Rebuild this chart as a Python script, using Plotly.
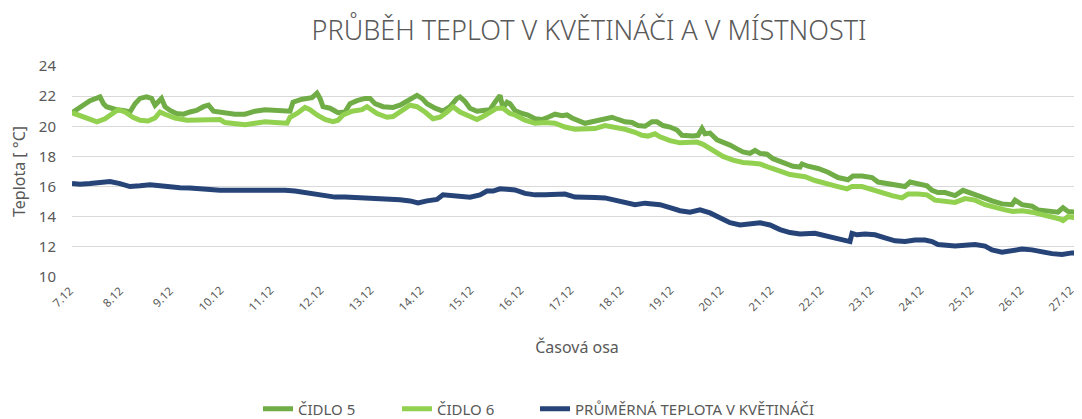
import plotly.graph_objects as go

# day offsets from 7.12 (0 = 7.12, 20 = 27.12)
tick_labels = ["7.12", "8.12", "9.12", "10.12", "11.12", "12.12", "13.12", "14.12", "15.12",
               "16.12", "17.12", "18.12", "19.12", "20.12", "21.12", "22.12", "23.12", "24.12",
               "25.12", "26.12", "27.12"]

cidlo5_t = [-0.06, 0.17, 0.30, 0.50, 0.57, 0.63, 0.83, 0.97, 1.10, 1.20, 1.30, 1.43, 1.53, 1.60,
            1.67, 1.73, 1.80, 1.90, 2.03, 2.17, 2.30, 2.43, 2.57, 2.67, 2.77, 3.00, 3.20, 3.40,
            3.60, 3.80, 4.00, 4.20, 4.30, 4.36, 4.54, 4.74, 4.84, 4.90, 4.96, 5.10, 5.26, 5.40,
            5.50, 5.64, 5.80, 5.90, 6.00, 6.16, 6.36, 6.50, 6.64, 6.76, 6.84, 6.94, 7.04, 7.20,
            7.36, 7.50, 7.64, 7.70, 7.80, 7.90, 8.04, 8.16, 8.30, 8.40, 8.50, 8.56, 8.64, 8.70,
            8.80, 8.94, 9.06, 9.20, 9.34, 9.46, 9.60, 9.74, 9.84, 9.94, 10.06, 10.20, 10.34,
            10.46, 10.60, 10.74, 10.86, 11.00, 11.14, 11.26, 11.40, 11.54, 11.64, 11.76, 11.90,
            12.04, 12.14, 12.24, 12.36, 12.46, 12.54, 12.60, 12.70, 12.84, 12.96, 13.10, 13.24,
            13.36, 13.50, 13.60, 13.70, 13.84, 13.96, 14.10, 14.24, 14.36, 14.50, 14.54, 14.66,
            14.86, 15.06, 15.26, 15.46, 15.56, 15.74, 15.94, 16.06, 16.26, 16.46, 16.60, 16.70,
            16.86, 17.04, 17.14, 17.26, 17.40, 17.60, 17.76, 17.94, 18.14, 18.34, 18.54, 18.74,
            18.80, 18.94, 19.14, 19.26, 19.46, 19.66, 19.76, 19.86, 20.00, 20.14]
cidlo5_v = [20.9, 21.4, 21.7, 21.95, 21.5, 21.3, 21.1, 21.05, 20.95, 21.5, 21.85, 21.95, 21.85, 21.4,
            21.7, 21.85, 21.3, 21.05, 20.85, 20.8, 20.95, 21.05, 21.3, 21.4, 21.0, 20.85, 20.8, 20.8,
            21.0, 21.1, 21.05, 20.95, 21.0, 21.6, 21.8, 21.9, 22.2, 21.85, 21.3, 21.2, 20.9, 20.95,
            21.5, 21.7, 21.85, 21.85, 21.5, 21.3, 21.25, 21.4, 21.7, 21.95, 22.05, 21.85, 21.5, 21.2,
            21.0, 21.3, 21.85, 21.95, 21.65, 21.2, 21.0, 21.05, 21.1, 21.6, 22.05, 21.2, 21.6, 21.5,
            21.05, 20.85, 20.75, 20.5, 20.45, 20.6, 20.8, 20.7, 20.75, 20.55, 20.35, 20.2, 20.3,
            20.4, 20.5, 20.6, 20.45, 20.3, 20.25, 20.05, 20.0, 20.3, 20.3, 20.05, 19.95,
            19.75, 19.4, 19.35, 19.35, 19.4, 19.85, 19.5, 19.55, 19.1, 18.95, 18.75, 18.5,
            18.3, 18.2, 18.4, 18.2, 18.15, 17.85, 17.7, 17.55, 17.35, 17.3, 17.5, 17.35,
            17.2, 16.95, 16.6, 16.45, 16.7, 16.7, 16.6, 16.3, 16.2, 16.05, 16.0, 16.3,
            16.2, 16.05, 15.75, 15.6, 15.6, 15.4, 15.75, 15.5, 15.3, 15.05, 14.85, 14.8,
            15.1, 14.8, 14.7, 14.45, 14.35, 14.3, 14.6, 14.35, 14.3, 14.2]

cidlo6_t = [-0.06, 0.10, 0.30, 0.44, 0.60, 0.76, 0.86, 1.00, 1.16, 1.30, 1.46, 1.60, 1.70, 1.80,
            2.00, 2.24, 2.50, 2.70, 2.90, 3.00, 3.20, 3.40, 3.60, 3.80, 4.00, 4.24, 4.30, 4.44,
            4.60, 4.70, 4.84, 5.00, 5.16, 5.26, 5.36, 5.54, 5.74, 5.84, 6.04, 6.24, 6.36, 6.50,
            6.70, 6.84, 7.00, 7.16, 7.30, 7.44, 7.56, 7.70, 7.90, 8.04, 8.16, 8.34, 8.44, 8.56,
            8.70, 8.80, 9.00, 9.20, 9.40, 9.60, 9.80, 10.00, 10.20, 10.40, 10.60, 10.80, 11.00,
            11.20, 11.34, 11.46, 11.60, 11.70, 11.90, 12.10, 12.30, 12.44, 12.56, 12.76, 12.96,
            13.16, 13.36, 13.56, 13.70, 13.90, 14.10, 14.30, 14.50, 14.60, 14.80, 15.00, 15.20,
            15.44, 15.54, 15.74, 15.94, 16.14, 16.34, 16.54, 16.66, 16.86, 17.04, 17.20, 17.40,
            17.60, 17.80, 18.00, 18.20, 18.40, 18.60, 18.76, 18.94, 19.14, 19.34, 19.54, 19.70,
            19.76, 19.86, 20.00, 20.14]
cidlo6_v = [20.9, 20.7, 20.45, 20.3, 20.5, 20.9, 21.1, 20.95, 20.6, 20.4, 20.35, 20.55, 20.95, 20.8,
            20.55, 20.4, 20.4, 20.45, 20.45, 20.25, 20.2, 20.1, 20.2, 20.3, 20.25, 20.2, 20.6, 20.85,
            21.25, 21.1, 20.75, 20.45, 20.3, 20.4, 20.75, 21.0, 21.1, 21.3, 20.85, 20.6, 20.65, 20.95,
            21.4, 21.3, 20.95, 20.5, 20.6, 20.95, 21.3, 20.95, 20.65, 20.45, 20.65, 20.95, 21.2, 21.2,
            20.85, 20.75, 20.4, 20.2, 20.25, 20.2, 19.95, 19.8, 19.8, 19.85, 20.05, 19.95, 19.8,
            19.6, 19.4, 19.35, 19.5, 19.3, 19.05, 18.9, 18.9, 18.95, 18.8, 18.4, 18.0,
            17.75, 17.6, 17.55, 17.5, 17.25, 17.0, 16.8, 16.7, 16.65, 16.4, 16.2, 16.05,
            15.85, 16.0, 16.0, 15.8, 15.55, 15.4, 15.25, 15.5, 15.5, 15.45, 15.1, 15.05,
            14.95, 15.2, 15.1, 14.8, 14.6, 14.45, 14.35, 14.4, 14.3, 14.15, 14.0, 13.85,
            13.75, 14.0, 13.95, 14.0]

prumer_t = [-0.06, 0.10, 0.30, 0.50, 0.70, 0.90, 1.10, 1.30, 1.50, 1.70, 1.90, 2.10, 2.30, 2.50,
            2.70, 2.90, 3.20, 3.60, 4.00, 4.20, 4.40, 4.60, 4.80, 5.00, 5.20, 5.40, 5.60, 5.80,
            6.10, 6.50, 6.70, 6.86, 7.04, 7.24, 7.36, 7.50, 7.70, 7.90, 8.10, 8.24, 8.36, 8.50,
            8.70, 8.80, 9.00, 9.20, 9.40, 9.60, 9.80, 10.00, 10.20, 10.40, 10.60, 10.80, 11.00,
            11.20, 11.40, 11.60, 11.70, 11.90, 12.10, 12.30, 12.50, 12.70, 12.90, 13.10, 13.30,
            13.50, 13.70, 13.90, 14.10, 14.30, 14.50, 14.80, 15.00, 15.20, 15.40, 15.50, 15.54,
            15.64, 15.80, 16.00, 16.20, 16.40, 16.60, 16.80, 17.00, 17.14, 17.26, 17.40, 17.60,
            17.80, 18.00, 18.20, 18.34, 18.54, 18.74, 18.94, 19.14, 19.34, 19.54, 19.74, 19.94,
            20.14]
prumer_v = [16.2, 16.15, 16.2, 16.3, 16.33, 16.2, 16.0, 16.05, 16.12, 16.05, 15.95, 15.92, 15.9, 15.88,
            15.8, 15.75, 15.75, 15.75, 15.8, 15.75, 15.7, 15.6, 15.5, 15.35, 15.3, 15.3, 15.28, 15.2,
            15.15, 15.12, 15.05, 14.92, 15.05, 15.15, 15.45, 15.4, 15.4, 15.3, 15.45, 15.7, 15.7, 15.85,
            15.8, 15.78, 15.55, 15.45, 15.45, 15.48, 15.5, 15.3, 15.25, 15.28, 15.25, 15.08, 14.95,
            14.8, 14.9, 14.85, 14.8, 14.6, 14.4, 14.3, 14.45, 14.25, 13.95, 13.6, 13.45,
            13.5, 13.6, 13.45, 13.15, 12.95, 12.85, 12.9, 12.75, 12.6, 12.45, 12.35, 12.9,
            12.8, 12.85, 12.8, 12.6, 12.4, 12.35, 12.45, 12.45, 12.35, 12.15, 12.1, 12.05,
            12.1, 12.15, 12.05, 11.8, 11.65, 11.75, 11.85, 11.8, 11.65, 11.55, 11.5, 11.6,
            11.6]

series_names = ["ČIDLO 5", "ČIDLO 6", "PRŮMĚRNÁ TEPLOTA V KVĚTINÁČI"]
y_ticks = [10, 12, 14, 16, 18, 20, 22, 24]

FONT = "Noto Sans"
GREY = "#595959"
# the page body has an 8 px margin, so the figure is 8 px smaller than the window
W, H = 1074, 411

fig = go.Figure()
fig.add_trace(go.Scatter(x=cidlo5_t, y=cidlo5_v, mode="lines", name=series_names[0],
                         line=dict(color="#70AD47", width=5), legend="legend"))
fig.add_trace(go.Scatter(x=cidlo6_t, y=cidlo6_v, mode="lines", name=series_names[1],
                         line=dict(color="#92D050", width=5), legend="legend2"))
fig.add_trace(go.Scatter(x=prumer_t, y=prumer_v, mode="lines", name=series_names[2],
                         line=dict(color="#264478", width=5), legend="legend3"))

leg_common = dict(orientation="h", xref="container", xanchor="left",
                  yref="container", y=1 - (409 - 8) / H, yanchor="middle",
                  font=dict(family=FONT, size=15, color=GREY), bgcolor="rgba(0,0,0,0)")

# rotated date labels under the x axis, placed at the axis' own tick values
for i, lab in enumerate(tick_labels):
    fig.add_annotation(x=i, xref="x", y=0, yref="paper", text=lab, showarrow=False,
                       textangle=-45, xanchor="right", yanchor="top",
                       xshift=4, yshift=-3,
                       font=dict(family=FONT, size=11.5, color=GREY))

fig.update_layout(
    width=W, height=H,
    margin=dict(l=64, r=0, t=58, b=142, autoexpand=False),
    paper_bgcolor="white", plot_bgcolor="white",
    font=dict(family=FONT, color=GREY),
    title=dict(text="PRŮBĚH TEPLOT V KVĚTINÁČI A V MÍSTNOSTI",
               font=dict(family=FONT, size=27, color=GREY, weight=300),
               xref="container", x=(589 - 8) / W, xanchor="center",
               yref="container", y=1 - (31 - 8) / H, yanchor="middle"),
    showlegend=True,
    legend=dict(leg_common, x=(258 - 8) / W),
    legend2=dict(leg_common, x=(397 - 8) / W),
    legend3=dict(leg_common, x=(535 - 8) / W),
)
fig.update_xaxes(
    range=[-0.06, 20.14], automargin=False,
    tickmode="array", tickvals=list(range(len(tick_labels))), showticklabels=False,
    showgrid=False, zeroline=False, showline=False, ticks="",
    title=dict(text="Časová osa", font=dict(family=FONT, size=16, color=GREY), standoff=64),
)
fig.update_yaxes(
    range=[10, 24], tickvals=y_ticks, automargin=False,
    tickfont=dict(family=FONT, size=15, color=GREY), ticklabelstandoff=15,
    showgrid=True, gridcolor="#D9D9D9", gridwidth=1,
    zeroline=False, showline=False, ticks="",
    title=dict(text="Teplota [ °C]", font=dict(family=FONT, size=16, color=GREY), standoff=14),
)

fig.write_html("out.html")
